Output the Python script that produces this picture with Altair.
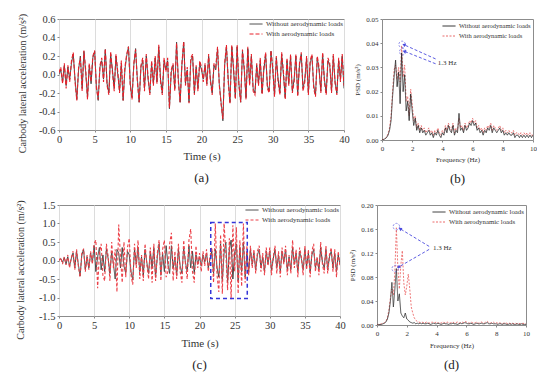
import altair as alt
import pandas as pd

FONT = "Liberation Serif"
BLUE = "#4a4ade"
SERIES = ["Without aerodynamic loads", "With aerodynamic loads"]

# ---------------- time axis (s), 0.25 s sampling ----------------
time_s = [round(i * 0.25, 2) for i in range(161)]

# (a) carbody lateral acceleration, case 1 (m/s^2)
a_without = [
    0.00, 0.05, -0.08, 0.10,  -0.12, 0.08, -0.05, 0.12,  0.22, -0.05, -0.27, 0.05,
    0.20, -0.15, 0.25, 0.02,  -0.25, 0.10, -0.10, 0.18,  0.25, -0.12, -0.28, 0.08,
    0.15, -0.05, 0.27, -0.10,  -0.20, 0.22, 0.05, -0.15,  0.20, 0.00, -0.18, 0.12,
    -0.28, 0.05, 0.20, 0.30,  -0.10, -0.25, 0.10, 0.28,  -0.05, -0.30, 0.08, 0.15,
    -0.15, 0.20, -0.05, -0.20,  0.12, -0.10, 0.18, -0.08,  0.30, -0.05, -0.20, 0.15,
    0.05, 0.15, -0.37, 0.02,  0.10, -0.15, 0.35, -0.05,  -0.30, 0.10, 0.35, -0.10,
    0.05, -0.30, 0.15, 0.20,  -0.20, 0.08, -0.15, 0.12,  0.05, -0.05, 0.10, -0.10,
    0.20, -0.05, -0.20, 0.10,  0.05, 0.28, -0.10, -0.30,  -0.50, 0.10, 0.30, -0.05,
    -0.30, 0.30, 0.05, -0.25,  0.30, -0.10, -0.30, 0.25,  0.05, -0.25, 0.28, -0.10,
    0.20, -0.15, -0.20, 0.10,  -0.10, 0.15, -0.20, 0.05,  0.22, -0.12, -0.18, 0.25,
    0.05, -0.22, 0.18, -0.05,  -0.20, 0.22, 0.00, -0.25,  0.15, -0.10, 0.20, -0.18,
    -0.05, 0.20, -0.22, 0.10,  0.22, -0.15, -0.05, 0.18,  -0.20, 0.12, 0.20, -0.12,
    -0.22, 0.18, 0.05, -0.18,  0.22, -0.05, -0.20, 0.15,  0.10, -0.18, 0.20, -0.08,
    -0.20, 0.15, -0.05, 0.20,  -0.15,
]
a_with = [
    0.02, 0.08, -0.10, 0.12,  -0.15, 0.10, -0.08, 0.15,  0.24, -0.08, -0.28, 0.08,
    0.18, -0.18, 0.26, 0.05,  -0.27, 0.12, -0.08, 0.20,  0.26, -0.15, -0.27, 0.10,
    0.18, -0.08, 0.28, -0.12,  -0.22, 0.25, 0.02, -0.18,  0.22, 0.03, -0.20, 0.15,
    -0.28, 0.08, 0.22, 0.30,  -0.12, -0.27, 0.12, 0.27,  -0.08, -0.30, 0.10, 0.18,
    -0.18, 0.22, -0.02, -0.22,  0.15, -0.12, 0.20, -0.10,  0.32, -0.08, -0.22, 0.18,
    0.03, 0.18, -0.36, 0.05,  0.12, -0.18, 0.34, -0.08,  -0.30, 0.12, 0.36, -0.12,
    0.08, -0.31, 0.18, 0.22,  -0.22, 0.10, -0.18, 0.15,  0.08, -0.08, 0.12, -0.12,
    0.22, -0.08, -0.22, 0.12,  0.08, 0.30, -0.12, -0.32,  -0.48, 0.12, 0.32, -0.08,
    -0.32, 0.32, 0.08, -0.27,  0.32, -0.12, -0.30, 0.27,  0.08, -0.27, 0.30, -0.12,
    0.22, -0.18, -0.22, 0.12,  -0.12, 0.18, -0.22, 0.08,  0.24, -0.15, -0.20, 0.26,
    0.08, -0.24, 0.20, -0.08,  -0.22, 0.24, 0.03, -0.27,  0.18, -0.12, 0.22, -0.20,
    -0.08, 0.22, -0.24, 0.12,  0.24, -0.18, -0.08, 0.20,  -0.22, 0.15, 0.22, -0.15,
    -0.24, 0.20, 0.08, -0.20,  0.24, -0.08, -0.22, 0.18,  0.12, -0.20, 0.22, -0.10,
    -0.22, 0.18, -0.08, 0.22,  -0.12,
]

# (c) carbody lateral acceleration, case 2 (m/s^2)
c_without = [
    0.00, 0.05, -0.05, 0.08,  -0.10, 0.10, -0.15, 0.05,  0.20, -0.20, 0.25, -0.10,
    -0.42, 0.15, 0.30, -0.25,  0.10, -0.20, 0.20, -0.05,  0.40, -0.30, 0.10, 0.35,
    -0.25, 0.15, -0.30, 0.30,  0.05, -0.35, 0.25, -0.10,  -0.50, 0.30, 0.20, -0.20,
    0.35, -0.15, -0.35, 0.25,  0.15, -0.30, -0.53, 0.30,  -0.10, 0.35, -0.30, 0.10,
    -0.40, 0.30, -0.05, -0.35,  0.25, -0.20, 0.35, -0.45,  0.10, 0.45, -0.40, 0.20,
    -0.30, 0.40, -0.10, -0.35,  0.40, -0.20, 0.10, -0.40,  0.30, -0.15, -0.35, 0.35,
    -0.05, -0.30, 0.40, -0.20,  0.25, -0.35, 0.15, -0.10,  0.10, -0.15, 0.15, -0.05,
    0.20, -0.20, 0.05, 0.25,  -0.35, 0.30, -0.20, -0.45,  0.45, -0.55, 0.20, 0.50,
    -0.60, 0.30, 0.55, -0.50,  0.20, 0.45, -0.55, 0.35,  -0.30, 0.50, -0.45, 0.20,
    -0.30, 0.30, -0.10, 0.20,  -0.25, 0.15, 0.30, -0.20,  0.10, -0.30, 0.25, -0.10,
    0.25, -0.25, 0.05, 0.30,  -0.20, 0.15, -0.30, 0.25,  -0.05, 0.30, -0.25, 0.10,
    -0.25, 0.35, -0.10, 0.20,  -0.30, 0.25, 0.05, -0.25,  0.30, -0.15, 0.20, -0.30,
    0.15, 0.30, -0.20, 0.05,  -0.25, 0.35, -0.05, -0.20,  0.30, -0.25, 0.10, 0.25,
    -0.20, 0.20, -0.30, 0.15,  -0.10,
]
c_with = [
    0.00, 0.08, -0.10, 0.10,  -0.12, 0.15, -0.20, 0.08,  0.25, -0.25, 0.30, -0.15,
    -0.45, 0.20, 0.32, -0.30,  0.15, -0.25, 0.25, -0.10,  0.45, 0.55, -0.75, 0.20,
    0.45, -0.40, -0.55, 0.45,  0.10, -0.55, 0.50, -0.20,  0.30, -0.85, 0.97, 0.10,
    -0.60, 0.50, -0.45, 0.35,  0.60, -0.40, -0.65, 0.45,  -0.20, 0.55, -0.50, 0.15,
    -0.55, 0.45, -0.10, -0.50,  0.35, -0.60, 0.45, -0.55,  0.20, 0.55, -0.55, 0.30,
    0.55, -0.45, -0.30, 0.45,  0.75, -0.55, 0.25, -0.50,  0.45, -0.30, -0.60, 0.55,
    -0.10, -0.50, 0.55, 0.85,  -0.30, -0.60, 0.40, -0.20,  0.20, -0.30, 0.25, -0.15,
    0.30, -0.30, 0.10, 0.35,  -0.60, 1.00, -0.40, -0.85,  0.70, -0.90, 1.00, 0.20,
    -0.80, 0.60, -1.05, 0.95,  -0.30, 0.90, -0.90, 0.55,  -0.70, 1.00, -0.60, 0.40,
    -0.40, 0.40, -0.20, 0.30,  -0.35, 0.25, 0.40, -0.30,  0.20, -0.40, 0.35, -0.15,
    0.35, -0.40, 0.10, 0.40,  -0.35, 0.25, -0.45, 0.35,  -0.10, 0.40, -0.40, 0.15,
    -0.35, 0.55, -0.20, 0.30,  -0.45, 0.35, 0.10, -0.40,  0.40, -0.25, 0.30, -0.45,
    0.25, 0.45, -0.30, 0.10,  -0.40, 0.50, -0.10, -0.35,  0.40, -0.35, 0.15, 0.35,
    -0.30, 0.30, -0.45, 0.25,  -0.15,
]

# ---------------- frequency axis (Hz), 0.1 Hz resolution ----------------
freq_hz = [round(i * 0.1, 1) for i in range(101)]

b_without = [
    0.0, 0.0002, 0.0005, 0.001, 0.002, 0.004, 0.008, 0.018, 0.026, 0.033,
    0.022, 0.028, 0.015, 0.036, 0.020, 0.027, 0.012, 0.016, 0.008, 0.019,
    0.012, 0.006, 0.009, 0.004, 0.006, 0.003, 0.005, 0.003, 0.004, 0.002,
    0.003, 0.004, 0.002, 0.003, 0.001, 0.003, 0.002, 0.004, 0.002, 0.001,
    0.003, 0.002, 0.005, 0.003, 0.006, 0.004, 0.003, 0.006, 0.002, 0.004,
    0.003, 0.011, 0.004, 0.005, 0.003, 0.006, 0.004, 0.005, 0.007, 0.006,
    0.008, 0.006, 0.007, 0.004, 0.005, 0.003, 0.004, 0.002, 0.004, 0.003,
    0.005, 0.004, 0.006, 0.003, 0.005, 0.004, 0.003, 0.004, 0.005, 0.003,
    0.004, 0.002, 0.003, 0.002, 0.003, 0.002, 0.002, 0.003, 0.001, 0.002,
    0.002, 0.001, 0.002, 0.001, 0.002, 0.001, 0.002, 0.001, 0.002, 0.001,
    0.002,
]
b_with = [
    0.0, 0.0003, 0.0006, 0.0012, 0.0025, 0.005, 0.010, 0.020, 0.029, 0.031,
    0.025, 0.030, 0.024, 0.039, 0.026, 0.031, 0.016, 0.018, 0.010, 0.021,
    0.015, 0.008, 0.010, 0.005, 0.007, 0.004, 0.006, 0.004, 0.005, 0.003,
    0.004, 0.005, 0.003, 0.004, 0.002, 0.004, 0.003, 0.005, 0.003, 0.002,
    0.004, 0.003, 0.006, 0.004, 0.007, 0.005, 0.004, 0.007, 0.003, 0.005,
    0.004, 0.009, 0.005, 0.006, 0.004, 0.007, 0.005, 0.006, 0.008, 0.007,
    0.009, 0.007, 0.008, 0.005, 0.006, 0.004, 0.005, 0.003, 0.005, 0.004,
    0.006, 0.005, 0.007, 0.004, 0.006, 0.005, 0.004, 0.005, 0.006, 0.004,
    0.005, 0.003, 0.004, 0.003, 0.004, 0.003, 0.003, 0.004, 0.002, 0.003,
    0.003, 0.002, 0.003, 0.002, 0.003, 0.002, 0.003, 0.002, 0.003, 0.002,
    0.002,
]
d_without = [
    0.0, 0.0005, 0.001, 0.001, 0.002, 0.003, 0.005, 0.010, 0.020, 0.040,
    0.071, 0.030, 0.060, 0.094, 0.040, 0.052, 0.020, 0.015, 0.012, 0.020,
    0.010, 0.008, 0.005, 0.004, 0.003, 0.004, 0.002, 0.003, 0.002, 0.003,
    0.002, 0.003, 0.002, 0.002, 0.003, 0.002, 0.001, 0.002, 0.003, 0.002,
    0.002, 0.003, 0.002, 0.001, 0.002, 0.003, 0.002, 0.002, 0.001, 0.002,
    0.002, 0.003, 0.002, 0.002, 0.001, 0.002, 0.003, 0.002, 0.003, 0.004,
    0.003, 0.002, 0.002, 0.003, 0.002, 0.001, 0.002, 0.003, 0.002, 0.002,
    0.003, 0.002, 0.002, 0.003, 0.004, 0.002, 0.002, 0.003, 0.002, 0.002,
    0.002, 0.001, 0.002, 0.002, 0.001, 0.002, 0.002, 0.001, 0.001, 0.002,
    0.001, 0.002, 0.001, 0.001, 0.002, 0.001, 0.001, 0.002, 0.001, 0.001,
    0.001,
]
d_with = [
    0.0, 0.001, 0.001, 0.002, 0.003, 0.004, 0.006, 0.012, 0.025, 0.045,
    0.060, 0.050, 0.090, 0.162, 0.095, 0.060, 0.100, 0.124, 0.070, 0.050,
    0.065, 0.085, 0.060, 0.030, 0.020, 0.012, 0.008, 0.006, 0.005, 0.004,
    0.005, 0.004, 0.003, 0.005, 0.004, 0.003, 0.004, 0.005, 0.003, 0.004,
    0.005, 0.003, 0.004, 0.003, 0.005, 0.004, 0.003, 0.005, 0.004, 0.003,
    0.004, 0.005, 0.003, 0.004, 0.005, 0.003, 0.004, 0.005, 0.004, 0.006,
    0.005, 0.004, 0.003, 0.005, 0.004, 0.003, 0.004, 0.005, 0.003, 0.004,
    0.005, 0.004, 0.003, 0.005, 0.006, 0.004, 0.003, 0.004, 0.005, 0.003,
    0.004, 0.003, 0.004, 0.003, 0.002, 0.003, 0.004, 0.003, 0.002, 0.003,
    0.002, 0.003, 0.002, 0.003, 0.002, 0.003, 0.002, 0.002, 0.003, 0.002,
    0.002,
]

# ---------------- annotations ----------------
b_circle_f = [1.33, 1.37]
b_circle_v = [0.0395, 0.0365]
b_arrow_from_f = [3.55, 3.55]
b_arrow_from_v = [0.0335, 0.0315]
b_arrow_to_f = [1.48, 1.50]
b_arrow_to_v = [0.0393, 0.0366]
b_label = ("1.3 Hz", 3.7, 0.0318)

d_circle_f = [1.30, 1.22]
d_circle_v = [0.164, 0.094]
d_arrow_from_f = [3.5, 3.5]
d_arrow_from_v = [0.131, 0.126]
d_arrow_to_f = [1.58, 1.48]
d_arrow_to_v = [0.160, 0.097]
d_label = ("1.3 Hz", 3.75, 0.128)

c_box_t = [21.6, 26.8]
c_box_v = [-1.03, 1.03]


def long_frame(xname, xs, wo, w):
    return pd.DataFrame({
        xname: list(xs) * 2,
        "value": list(wo) + list(w),
        "series": [SERIES[0]] * len(wo) + [SERIES[1]] * len(w),
    })


def make_panel(df, xf, x_title, x_dom, x_vals, x_grid, y_dom, y_vals, y_dec, y_title,
               w, h, colors, widths, dash, lab_fs, tit_fs, ytit_fs, y_ext, y_tpad, y_tshift,
               x_lpad, x_tpad, leg_fs, leg_off, red_on_top, letter, letter_off, extras_fn):
    x_axis = alt.Axis(title=x_title, values=x_vals, grid=x_grid, gridColor="#dcdcdc",
                      labelFlush=False, labelFontSize=lab_fs, titleFontSize=tit_fs,
                      labelPadding=x_lpad, titlePadding=x_tpad, tickSize=2, format="d",
                      labelOverlap=False)
    y_axis = alt.Axis(title=y_title, values=y_vals, grid=False,
                      labelExpr="(datum.value < 0 ? '-' : '') + format(abs(datum.value), '.%df')" % y_dec,
                      labelFontSize=lab_fs, titleFontSize=ytit_fs, minExtent=y_ext, maxExtent=y_ext,
                      titlePadding=y_tpad, tickSize=2, labelPadding=2, labelOverlap=False,
                      titleLimit=300, titleY=h / 2 + y_tshift)
    xs = alt.Scale(domain=x_dom, nice=False, zero=False)
    ys = alt.Scale(domain=y_dom, nice=False, zero=False)
    leg = alt.Legend(title=None, orient="top-right", offset=leg_off, labelFontSize=leg_fs,
                     labelFont=FONT, labelColor="#333", symbolType="stroke", symbolSize=169,
                     symbolStrokeWidth=1, clipHeight=10, rowPadding=0, padding=0,
                     labelOffset=3, labelLimit=200)
    color = alt.Color("series:N", scale=alt.Scale(domain=SERIES, range=colors), legend=leg)
    sdash = alt.StrokeDash("series:N", scale=alt.Scale(domain=SERIES, range=[[1, 0], dash]), legend=leg)
    base = alt.Chart(df).encode(
        x=alt.X(f"{xf}:Q", scale=xs, axis=x_axis),
        y=alt.Y("value:Q", scale=ys, axis=y_axis),
        color=color, strokeDash=sdash,
    )
    l_wo = base.transform_filter(alt.datum.series == SERIES[0]).mark_line(strokeWidth=widths[0], clip=True)
    l_w = base.transform_filter(alt.datum.series == SERIES[1]).mark_line(strokeWidth=widths[1], clip=True)
    layers = [l_wo, l_w] if red_on_top else [l_w, l_wo]
    layers += extras_fn(xf, xs, ys, x_axis, y_axis)
    return alt.layer(*layers).properties(
        width=w, height=h,
        title=alt.TitleParams(letter, orient="bottom", anchor="middle", frame="group",
                              fontSize=13, font=FONT, fontWeight="normal", color="#222",
                              offset=letter_off),
    )


def psd_annotations(circ_f, circ_v, af_f, af_v, at_f, at_v, label, angles):
    def fn(xf, xs, ys, x_axis, y_axis):
        circ = pd.DataFrame({xf: circ_f, "value": circ_v})
        arr = pd.DataFrame({xf: af_f, "value": af_v, "x2v": at_f, "y2v": at_v})
        lab = pd.DataFrame({xf: [label[1]], "value": [label[2]], "txt": [label[0]]})
        enc = dict(x=alt.X(f"{xf}:Q", scale=xs, axis=x_axis), y=alt.Y("value:Q", scale=ys, axis=y_axis))
        out = [
            alt.Chart(circ).mark_point(shape="circle", filled=False, size=42, color=BLUE,
                                       strokeWidth=0.9, strokeDash=[2, 1.5]).encode(**enc),
            alt.Chart(arr).mark_rule(color=BLUE, strokeDash=[3, 2], strokeWidth=0.9).encode(
                x2="x2v:Q", y2="y2v:Q", **enc),
            alt.Chart(lab).mark_text(align="left", baseline="middle", fontSize=7, font=FONT,
                                     color="#333").encode(text="txt:N", **enc),
        ]
        for i, ang in enumerate(angles):
            tip = pd.DataFrame({xf: [at_f[i]], "value": [at_v[i]]})
            out.append(alt.Chart(tip).mark_point(shape="triangle", filled=True, size=14,
                                                 color=BLUE, angle=ang, opacity=1).encode(**enc))
        return out
    return fn


def box_annotation(xf, xs, ys, x_axis, y_axis):
    box = pd.DataFrame({xf: [c_box_t[0]], "t2": [c_box_t[1]], "value": [c_box_v[0]], "v2": [c_box_v[1]]})
    return [alt.Chart(box).mark_rect(fillOpacity=0, stroke="#3535d8", strokeWidth=1.5,
                                     strokeDash=[4, 3]).encode(
        x=alt.X(f"{xf}:Q", scale=xs, axis=x_axis), x2="t2:Q",
        y=alt.Y("value:Q", scale=ys, axis=y_axis), y2="v2:Q")]


def no_extras(*args):
    return []


acc_title = "Carbody lateral acceleration (m/s²)"
psd_title = "PSD (m/s²)"
t_vals = [0, 5, 10, 15, 20, 25, 30, 35, 40]
f_vals = [0, 2, 4, 6, 8, 10]

panel_a = make_panel(long_frame("t", time_s, a_without, a_with), "t", "Time (s)", [0, 40], t_vals, True,
                     [-0.6, 0.6], [-0.6, -0.4, -0.2, 0.0, 0.2, 0.4, 0.6], 1, acc_title,
                     285, 111, ["#3a3a3a", "#e8202a"], [1.0, 1.1], [4, 2], 10.5, 11, 10, 22, 10, 8.5,
                     2, 6, 7, 0, True, "(a)", 10, no_extras)
panel_b = make_panel(long_frame("f", freq_hz, b_without, b_with), "f", "Frequency (Hz)", [0, 10], f_vals, False,
                     [0, 0.05], [0.0, 0.01, 0.02, 0.03, 0.04, 0.05], 2, psd_title,
                     151, 121, ["#1e1e1e", "#e86a6a"], [0.8, 0.9], [2, 1.5], 7, 7, 7, 17, 5, 0,
                     2.5, 4, 6.5, 2,
                     False, "(b)", 10,
                     psd_annotations(b_circle_f, b_circle_v, b_arrow_from_f, b_arrow_from_v,
                                     b_arrow_to_f, b_arrow_to_v, b_label, [295, 290]))
panel_c = make_panel(long_frame("t", time_s, c_without, c_with), "t", "Time (s)", [0, 40], t_vals, True,
                     [-1.5, 1.5], [-1.5, -1.0, -0.5, 0.0, 0.5, 1.0, 1.5], 1, acc_title,
                     281, 111, ["#3a3a3a", "#ec4048"], [1.0, 1.1], [3, 2], 10.5, 11, 10, 24, 10, 9,
                     2.5, 6.5, 7, 0, True, "(c)", 10, box_annotation)
panel_d = make_panel(long_frame("f", freq_hz, d_without, d_with), "f", "Frequency (Hz)", [0, 10], f_vals, False,
                     [0, 0.2], [0.0, 0.04, 0.08, 0.12, 0.16, 0.2], 2, psd_title,
                     149, 120, ["#2a2a2a", "#ec6a6a"], [0.8, 0.9], [2, 1.5], 7, 7, 7, 17, 5, 0,
                     2, 5, 6.8, 2,
                     False, "(d)", 11,
                     psd_annotations(d_circle_f, d_circle_v, d_arrow_from_f, d_arrow_from_v,
                                     d_arrow_to_f, d_arrow_to_v, d_label, [302, 239]))


def indep(ch):
    return ch.resolve_scale(color="independent", strokeDash="independent").resolve_legend(
        color="independent", strokeDash="independent")


chart = indep(alt.vconcat(
    indep(alt.hconcat(panel_a, panel_b, spacing=2)),
    indep(alt.hconcat(panel_c, panel_d, spacing=1)),
    spacing=13,
)).properties(
    padding={"left": 6, "top": 4, "right": 0, "bottom": 0}
).configure(
    font=FONT
).configure_view(
    stroke="#8c8c8c", strokeWidth=1
).configure_axis(
    domain=False, tickColor="#888", labelColor="#333", titleColor="#333",
    labelFont=FONT, titleFont=FONT, titleFontWeight="normal"
)

chart.save("out.html", embed_options={"renderer": "svg", "actions": False})
